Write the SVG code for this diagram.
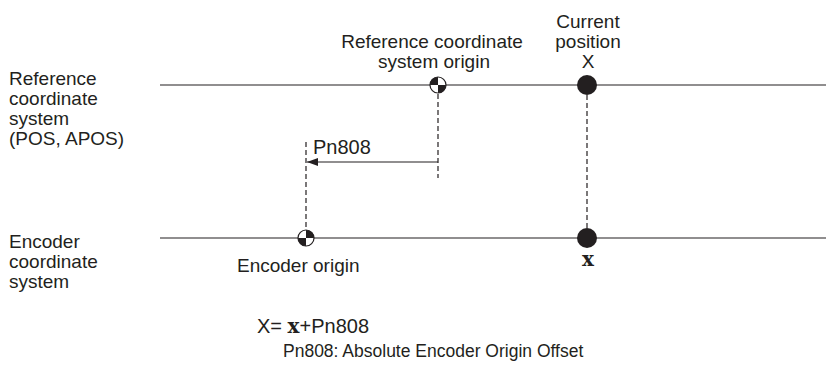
<svg xmlns="http://www.w3.org/2000/svg" width="826" height="374" viewBox="0 0 826 374">
<style>
text{font-family:"Liberation Sans",Arial,sans-serif;font-size:19px;fill:#231f20}
.ln{stroke:#231f20;stroke-width:1.2;fill:none}
.ds{stroke:#231f20;stroke-width:1.2;fill:none;stroke-dasharray:5 3}
.mid{text-anchor:middle}
.chi{font-family:"DejaVu Serif",serif;font-weight:bold;font-size:20px}
</style>
<defs>
<marker id="ah" markerWidth="12" markerHeight="8" refX="11" refY="4" orient="auto" markerUnits="userSpaceOnUse">
<path d="M0,0 L11,4 L0,8 Z" fill="#231f20"/>
</marker>
</defs>
<rect width="826" height="374" fill="#fff"/>
<g id="labels">
<text x="9" y="85">Reference</text>
<text x="9" y="105">coordinate</text>
<text x="9" y="125">system</text>
<text x="9" y="145">(POS, APOS)</text>
<text x="9" y="248">Encoder</text>
<text x="9" y="268">coordinate</text>
<text x="9" y="288">system</text>
</g>
<g id="connectors">
<line class="ln" x1="160" y1="85" x2="826" y2="85"/>
<line class="ln" x1="160" y1="238" x2="826" y2="238"/>
<line class="ds" x1="438" y1="94" x2="438" y2="178"/>
<line class="ds" x1="306" y1="142" x2="306" y2="230"/>
<line class="ds" x1="587" y1="95" x2="587" y2="228"/>
<line class="ln" x1="438" y1="162" x2="307" y2="162" marker-end="url(#ah)"/>
<text x="313" y="154" style="font-size:20px">Pn808</text>
</g>
<g id="ref-origin">
<circle cx="438" cy="85" r="8" fill="#fff" stroke="#231f20" stroke-width="1.2"/>
<path d="M438,85 L430,85 A8,8 0 0 1 438,77 Z" fill="#231f20"/>
<path d="M438,85 L446,85 A8,8 0 0 1 438,93 Z" fill="#231f20"/>
<text class="mid" x="432" y="48">Reference coordinate</text>
<text class="mid" x="434" y="68">system origin</text>
</g>
<g id="enc-origin">
<circle cx="306" cy="238" r="8" fill="#fff" stroke="#231f20" stroke-width="1.2"/>
<path d="M306,238 L306,230 A8,8 0 0 1 314,238 Z" fill="#231f20"/>
<path d="M306,238 L306,246 A8,8 0 0 1 298,238 Z" fill="#231f20"/>
<text x="237" y="272">Encoder origin</text>
</g>
<g id="current-pos">
<circle cx="587" cy="85" r="10" fill="#231f20"/>
<text class="mid" x="588" y="28">Current</text>
<text class="mid" x="588" y="48">position</text>
<text class="mid" x="588" y="68">X</text>
</g>
<g id="encoder-pos">
<circle cx="587" cy="238" r="10" fill="#231f20"/>
<text class="mid chi" x="588" y="266">x</text>
</g>
<g id="formula">
<text x="257" y="333" style="font-size:20px">X= <tspan class="chi">x</tspan>+Pn808</text>
<text x="283" y="357" style="font-size:17.5px">Pn808: Absolute Encoder Origin Offset</text>
</g>
</svg>
